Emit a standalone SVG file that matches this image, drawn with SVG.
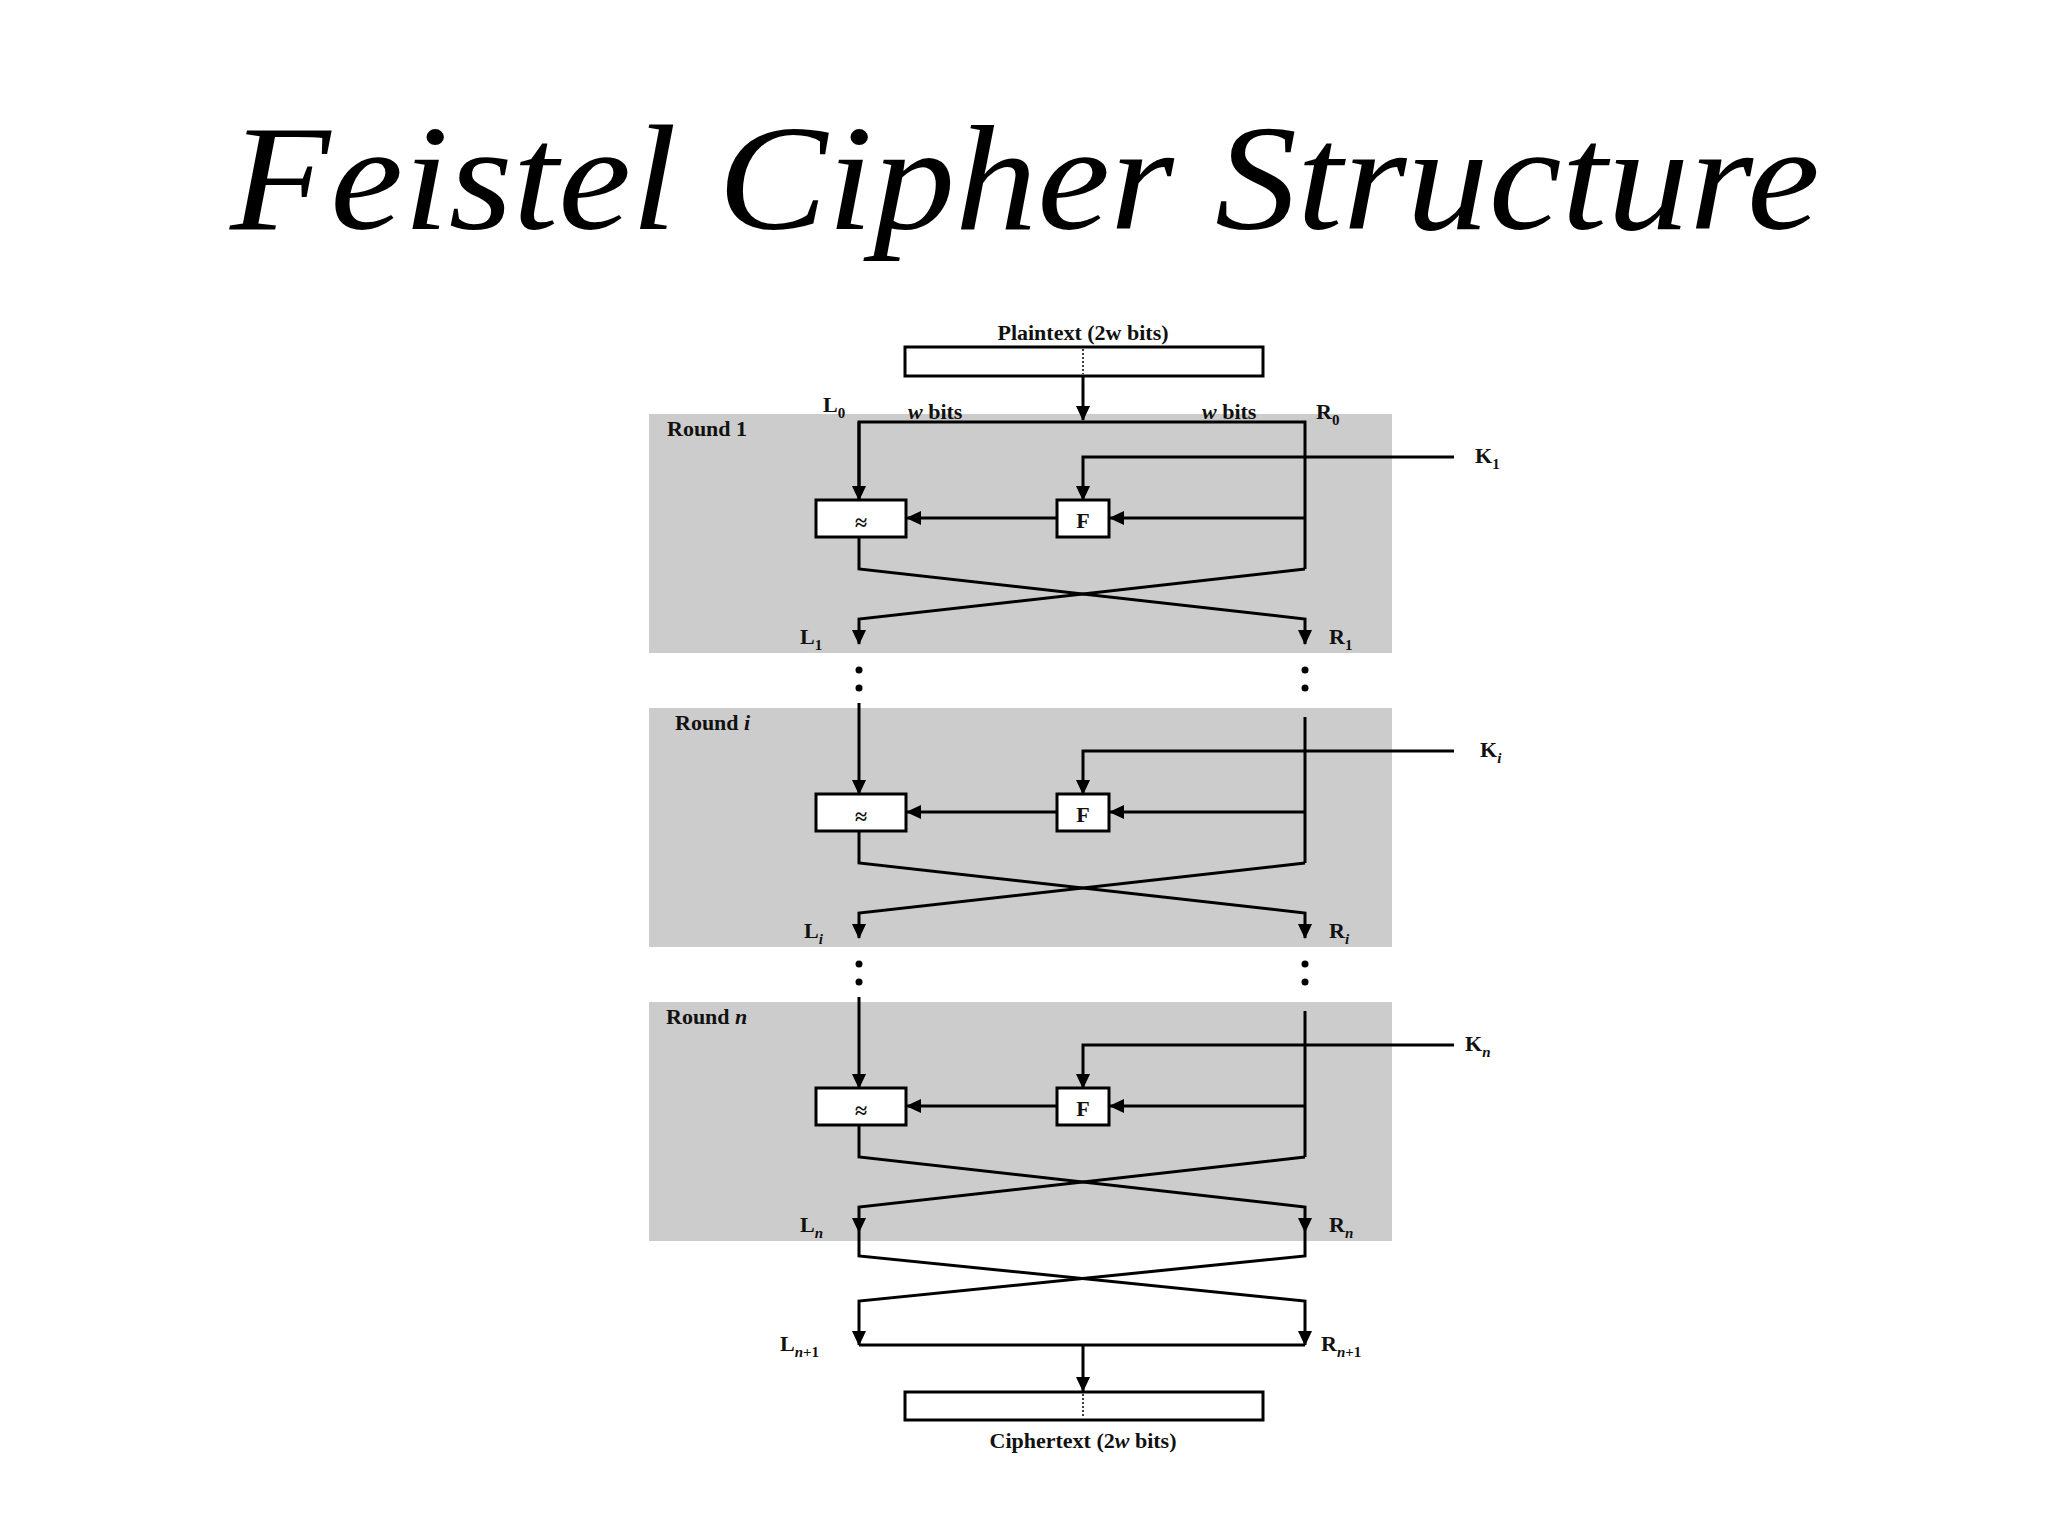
<svg xmlns="http://www.w3.org/2000/svg" width="2048" height="1536" viewBox="0 0 2048 1536">
<style>
.l{font-family:"Liberation Serif",serif;font-weight:bold;font-size:22px;fill:#111}
.s{font-size:15px}
.w{stroke:#000;stroke-width:3;fill:none}
.b{stroke:#000;stroke-width:3;fill:#fff}
.g{fill:#cccccc}
.d{stroke:#000;stroke-width:1.5;stroke-dasharray:2 2}
</style>
<defs>
<marker id="a" markerUnits="userSpaceOnUse" markerWidth="16" markerHeight="16" viewBox="0 0 16 16" refX="14" refY="8" orient="auto"><path d="M0 1L15 8L0 15z" fill="#000"/></marker>
<circle id="dot" r="3.5" fill="#000"/>
</defs>
<rect width="2048" height="1536" fill="#fff"/>
<text x="1025" y="229" text-anchor="middle" font-family="Liberation Serif,serif" font-style="italic" font-size="150" textLength="1590" lengthAdjust="spacingAndGlyphs">Feistel Cipher Structure</text>
<g id="plaintext"><rect class="b" x="905" y="347" width="358" height="29"/><line class="d" x1="1083" y1="349" x2="1083" y2="374"/><text class="l" x="1083" y="340" text-anchor="middle">Plaintext (2w bits)</text></g>
<g id="round1" transform="translate(0,0)"><rect class="g" x="649" y="414" width="743" height="239"/><text class="l" x="667" y="436">Round 1</text></g>
<g id="roundi" transform="translate(0,294)"><rect class="g" x="649" y="414" width="743" height="239"/><text class="l" x="675" y="436">Round <tspan font-style="italic">i</tspan></text></g>
<g id="roundn" transform="translate(0,588)"><rect class="g" x="649" y="414" width="743" height="239"/><text class="l" x="666" y="436">Round <tspan font-style="italic">n</tspan></text></g>
<g id="connectors">
<path class="w" d="M1083 376V420" marker-end="url(#a)"/>
<path class="w" d="M859 500V422H1305V569"/>
<path class="w" d="M859 422V500" marker-end="url(#a)"/>
<path class="w" d="M859 703V794" marker-end="url(#a)"/>
<path class="w" d="M1305 717V863"/>
<path class="w" d="M859 997V1088" marker-end="url(#a)"/>
<path class="w" d="M1305 1011V1157"/>
<g id="r1w"><path class="w" d="M1454 457H1083V500" marker-end="url(#a)"/><path class="w" d="M1305 518H1110" marker-end="url(#a)"/><path class="w" d="M1057 518H907" marker-end="url(#a)"/><path class="w" d="M859 537V569L1305 619V644" marker-end="url(#a)"/><path class="w" d="M1305 569L859 619V644" marker-end="url(#a)"/></g>
<use href="#r1w" y="294"/><use href="#r1w" y="588"/>
<use href="#dot" x="859" y="670"/><use href="#dot" x="859" y="688"/><use href="#dot" x="1305" y="670"/><use href="#dot" x="1305" y="688"/>
<use href="#dot" x="859" y="964"/><use href="#dot" x="859" y="982"/><use href="#dot" x="1305" y="964"/><use href="#dot" x="1305" y="982"/>
<path class="w" d="M859 1232V1256L1305 1301V1345" marker-end="url(#a)"/>
<path class="w" d="M1305 1232V1256L859 1301V1345" marker-end="url(#a)"/>
<path class="w" d="M859 1345H1305"/>
<path class="w" d="M1083 1345V1391" marker-end="url(#a)"/>
</g>
<g id="boxes">
<g id="f1"><rect class="b" x="1057" y="500" width="52" height="37"/><text class="l" x="1083" y="528" text-anchor="middle" font-size="26">F</text><rect class="b" x="816" y="500" width="90" height="37"/><text class="l" x="861" y="530" text-anchor="middle" font-family="DejaVu Sans" font-size="26">≈</text></g>
<use href="#f1" y="294"/><use href="#f1" y="588"/>
</g>
<g id="labels">
<text class="l" x="823" y="412">L<tspan class="s" dy="6">0</tspan></text>
<text class="l" x="908" y="419" font-size="19"><tspan font-style="italic">w</tspan> bits</text>
<text class="l" x="1202" y="419" font-size="19"><tspan font-style="italic">w</tspan> bits</text>
<text class="l" x="1316" y="419">R<tspan class="s" dy="6">0</tspan></text>
<text class="l" x="1475" y="463">K<tspan class="s" dy="6">1</tspan></text>
<text class="l" x="1480" y="757">K<tspan class="s" dy="6" font-style="italic">i</tspan></text>
<text class="l" x="1465" y="1051">K<tspan class="s" dy="6" font-style="italic">n</tspan></text>
<text class="l" x="800" y="644">L<tspan class="s" dy="6">1</tspan></text>
<text class="l" x="1329" y="644">R<tspan class="s" dy="6">1</tspan></text>
<text class="l" x="804" y="938">L<tspan class="s" dy="6" font-style="italic">i</tspan></text>
<text class="l" x="1329" y="938">R<tspan class="s" dy="6" font-style="italic">i</tspan></text>
<text class="l" x="800" y="1232">L<tspan class="s" dy="6" font-style="italic">n</tspan></text>
<text class="l" x="1329" y="1232">R<tspan class="s" dy="6" font-style="italic">n</tspan></text>
<text class="l" x="780" y="1351">L<tspan class="s" dy="6"><tspan font-style="italic">n</tspan>+1</tspan></text>
<text class="l" x="1321" y="1351">R<tspan class="s" dy="6"><tspan font-style="italic">n</tspan>+1</tspan></text>
</g>
<g id="ciphertext"><rect class="b" x="905" y="1392" width="358" height="28"/><line class="d" x1="1083" y1="1394" x2="1083" y2="1418"/><text class="l" x="1083" y="1448" text-anchor="middle">Ciphertext (2<tspan font-style="italic">w</tspan> bits)</text></g>
</svg>
